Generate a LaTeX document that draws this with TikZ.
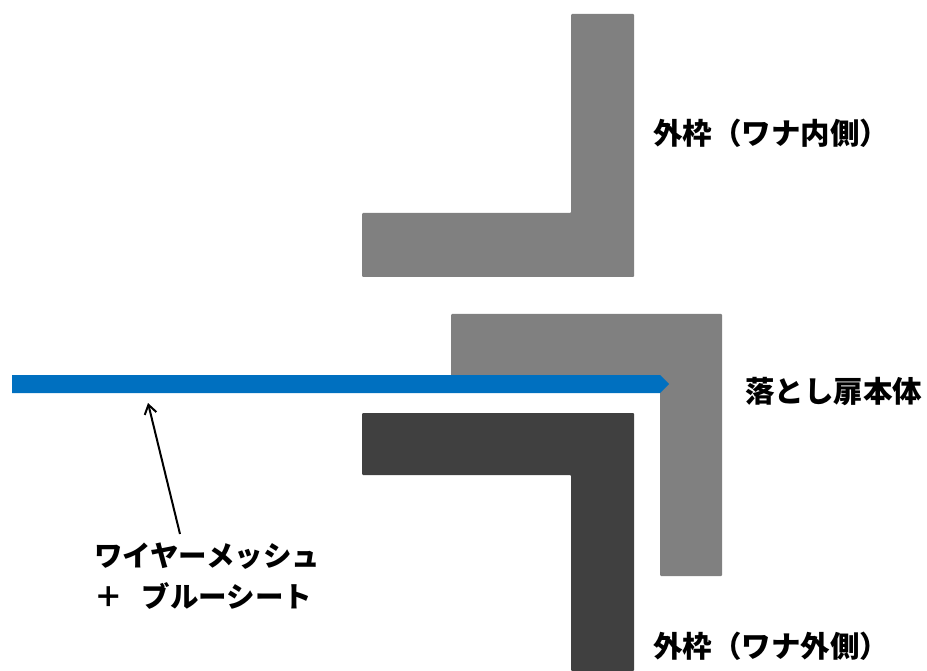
\documentclass[tikz,border=0pt]{standalone}
\usepackage{fontspec}
\usetikzlibrary{arrows.meta}
\newfontfamily\cjk{Noto Sans CJK JP}
\tikzset{lbl/.style={inner sep=0pt,anchor=west,font=\cjk\bfseries\fontsize{29.5pt}{32pt}\selectfont,text=black},
lbm/.style={inner sep=0pt,anchor=west,font=\cjk\bfseries\fontsize{28.5pt}{32pt}\selectfont,text=black}}
\begin{document}
\begin{tikzpicture}[x=1pt,y=-1pt]
\useasboundingbox (0,0) rectangle (927,671);
\fill[white] (0,0) rectangle (927,671);
\fill[rounded corners=1pt,fill=black!50] (571,14) -- (634,14) -- (634,277) -- (362,277) -- (362,213) -- (571,213) -- cycle;
\fill[rounded corners=1pt,fill=black!50] (451,314) -- (722,314) -- (722,576) -- (660,576) -- (660,376) -- (451,376) -- cycle;
\fill[rounded corners=1pt,fill=black!75] (362,413) -- (634,413) -- (634,671) -- (571,671) -- (571,475) -- (362,475) -- cycle;
\fill[fill={rgb,255:red,0;green,112;blue,192}] (12,375) -- (660,375) -- (669,384) -- (660,393) -- (12,393) -- cycle;
\node[lbl] (a) at (653,133) {外枠（ワナ内側）};
\node[lbl] (b) at (745,392) {落とし扉本体};
\node[lbl] (c) at (653,646) {外枠（ワナ外側）};
\node[lbm] (d) at (94,556) {ワイヤーメッシュ};
\node[lbm] (e) at (94,596) {＋\hspace{19pt}ブルーシート};
\coordinate (s) at (180,534);
\coordinate (t) at (148,403);
\draw[-{Straight Barb[length=9pt,width=12pt]},line width=2pt] (s) -- (t);
\end{tikzpicture}
\end{document}
